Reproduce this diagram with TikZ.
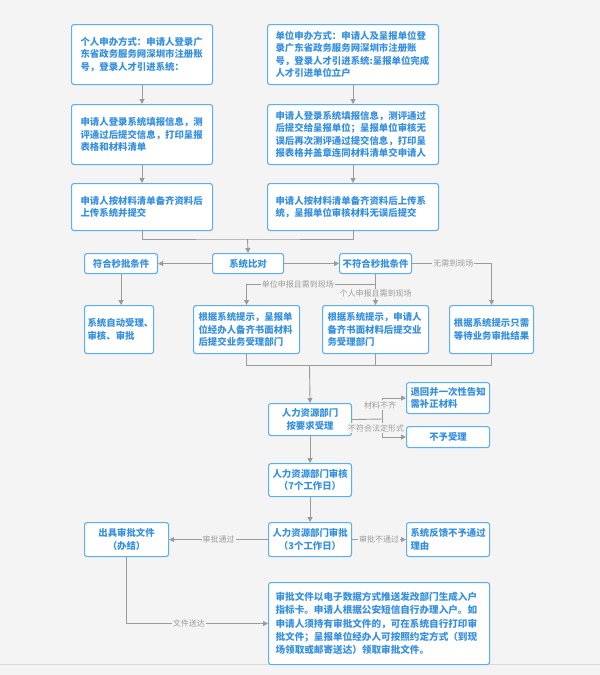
\documentclass[tikz,border=0pt]{standalone}
\usepackage{fontspec}
\setmainfont{Noto Sans CJK SC}
\usetikzlibrary{arrows.meta}
\definecolor{canvas}{HTML}{F4F4F4}
\definecolor{boxblue}{HTML}{5AAEF2}
\definecolor{txtblue}{HTML}{3590E0}
\definecolor{linegray}{HTML}{9A9A9A}
\definecolor{lblgray}{HTML}{9A9A9A}
\tikzset{
  box/.style={draw=boxblue, line width=1.1pt, rounded corners=2.5pt, fill=white,
    text=txtblue, font=\bfseries\fontsize{9.4}{12.5}\selectfont,
    inner xsep=10pt, inner ysep=0pt, anchor=north west},
  conn/.style={draw=linegray, line width=0.9pt},
  arr/.style={conn, -{Triangle[length=5pt,width=5pt]}},
  lbl/.style={fill=canvas, text=lblgray, font=\fontsize{8}{9}\selectfont, inner sep=1pt}
}
\begin{document}
\begin{tikzpicture}[x=1pt,y=-1pt]
\fill[canvas] (0,0) rectangle (600,675);
\useasboundingbox (0,0) rectangle (600,675);
\draw[color=black!15, line width=1pt] (0,664) -- (600,664);

% top row
\node[box, text width=123pt, minimum height=60pt, align=left, inner xsep=9pt] (a1) at (71,24)
 {个人申办方式：申请人登录广\\东省政务服务网深圳市注册账\\号，登录人才引进系统：};
\node[box, text width=155pt, minimum height=60pt, align=left, inner xsep=8pt] (b1) at (267,24)
 {单位申办方式：申请人及呈报单位登\\录广东省政务服务网深圳市注册账\\号，登录人才引进系统:呈报单位完成\\人才引进单位立户};
\node[box, text width=123pt, minimum height=60pt, align=left, inner xsep=9pt] (a2) at (71,104)
 {申请人登录系统填报信息，测\\评通过后提交信息，打印呈报\\表格和材料清单};
\node[box, text width=155pt, minimum height=60pt, align=left, inner xsep=8pt] (b2) at (267,104)
 {申请人登录系统填报信息，测评通过\\后提交给呈报单位；呈报单位审核无\\误后再次测评通过提交信息，打印呈\\报表格并盖章连同材料清单交申请人};
\node[box, text width=123pt, minimum height=47pt, align=left, inner xsep=9pt] (a3) at (71,183)
 {申请人按材料清单备齐资料后\\上传系统并提交};
\node[box, text width=155pt, minimum height=47pt, align=left, inner xsep=8pt] (b3) at (267,183)
 {申请人按材料清单备齐资料后上传系\\统，呈报单位审核材料无误后提交};

% comparison row
\node[box, text width=63pt, minimum height=20pt, align=center, inner xsep=5pt] (ok) at (84,253) {符合秒批条件};
\node[box, text width=61pt, minimum height=20pt, align=center, inner xsep=5pt] (cmp) at (212,253) {系统比对};
\node[box, text width=66pt, minimum height=20pt, align=center, inner xsep=3pt] (nok) at (339,253) {不符合秒批条件};

\node[box, text width=63pt, minimum height=48pt, align=left, inner xsep=3pt] (auto) at (84,305)
 {系统自动受理、\\审核、审批};
\node[box, text width=96pt, minimum height=48pt, align=left, inner xsep=5pt] (unit) at (193,305)
 {根据系统提示，呈报单\\位经办人备齐书面材料\\后提交业务受理部门};
\node[box, text width=96pt, minimum height=48pt, align=left, inner xsep=5pt] (per) at (322,305)
 {根据系统提示，申请人\\备齐书面材料后提交业\\务受理部门};
\node[box, text width=76pt, minimum height=48pt, align=center, inner xsep=4pt] (wait) at (449,305)
 {根据系统提示只需\\等待业务审批结果};

% acceptance
\node[box, text width=73pt, minimum height=32pt, align=center, inner xsep=5pt] (acc) at (268,403)
 {人力资源部门\\按要求受理};
\node[box, text width=75pt, minimum height=31pt, align=left, inner xsep=4pt] (ret) at (406,382)
 {退回并一次性告知\\需补正材料};
\node[box, text width=73pt, minimum height=21pt, align=center, inner xsep=5pt] (nacc) at (406,426) {不予受理};

\node[box, text width=75pt, minimum height=33pt, align=center, inner xsep=4pt] (rev) at (268,463)
 {人力资源部门审核\\（7个工作日）};
\node[box, text width=75pt, minimum height=34pt, align=center, inner xsep=4pt] (appr) at (268,522)
 {人力资源部门审批\\（3个工作日）};
\node[box, text width=76pt, minimum height=34pt, align=center, inner xsep=4pt] (out) at (84,522)
 {出具审批文件\\（办结）};
\node[box, text width=75pt, minimum height=34pt, align=left, inner xsep=4pt] (fb) at (406,522)
 {系统反馈不予通过\\理由};
\node[box, text width=207pt, minimum height=82pt, align=left, inner xsep=7pt,
  font=\bfseries\fontsize{9.6}{13.3}\selectfont] (fin) at (268,582)
 {审批文件以电子数据方式推送发改部门生成入户\\指标卡。申请人根据公安短信自行办理入户。如\\申请人须持有审批文件的，可在系统自行打印审\\批文件；呈报单位经办人可按照约定方式（到现\\场领取或邮寄送达）领取审批文件。};

% connectors
\draw[arr] (a1) -- (a2);
\draw[arr] (a2) -- (a3);
\draw[arr] (b1) -- (b2);
\draw[arr] (b2) -- (b3);
\coordinate (j1) at (247.5,239);
\draw[conn] (a3.south) |- (j1) -| (b3.south);
\draw[arr] (j1) -- (cmp.north);
\draw[arr] (cmp.west) -- (ok.east);
\draw[arr] (cmp.east) -- (nok.west);
\draw[arr] (ok.south) -- (ok.south |- auto.north);
\draw[arr] (nok.east) -| node[lbl, pos=0.26] {无需到现场} (wait.north);
\draw[arr] (nok.south) -- node[lbl, pos=0.62] {个人申报且需到现场} (per.north);
\coordinate (j2) at (375,284);
\draw[arr] (j2) -| node[lbl, pos=0.3] {单位申报且需到现场} (unit.north);
\coordinate (j3) at (309.5,365);
\draw[conn] (unit.south) |- (j3);
\draw[conn] (per.south) |- (j3);
\draw[conn] (wait.south) |- (j3);
\draw[arr] (j3) -- (acc.north);
\coordinate (j4) at (382,419);
\draw[conn] (acc.east) -- (j4);
\draw[arr] (j4) |- (ret.west);
\draw[arr] (j4) |- (nacc.west);
\node[lbl] at (380,405) {材料不齐};
\node[lbl] at (376,428) {不符合法定形式};
\draw[arr] (acc.south) -- (rev.north);
\draw[arr] (rev.south) -- (appr.north);
\draw[arr] (appr.west) -- node[lbl] {审批通过} (out.east);
\draw[arr] (appr.east) -- node[lbl] {审批不通过} (fb.west);
\draw[arr] (out.south) |- node[lbl, pos=0.72] {文件送达} (fin.west);
\end{tikzpicture}
\end{document}
